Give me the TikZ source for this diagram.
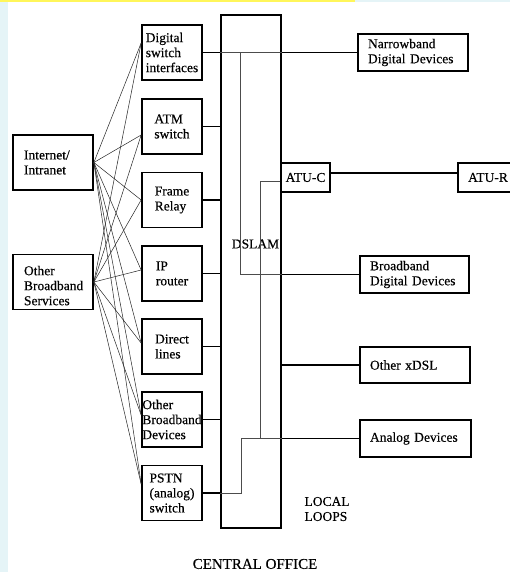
\documentclass[tikz,border=0pt]{standalone}
\usepackage{fontspec}
\setmainfont{Liberation Serif}[FakeBold=0.35]
\usetikzlibrary{calc}
\definecolor{paneblue}{RGB}{229,244,247}
\definecolor{strip}{RGB}{255,246,90}
\begin{document}
\begin{tikzpicture}[x=1pt,y=-1pt,
  txt/.style={font=\fontsize{13.5}{15}\selectfont},
  box/.style={txt, draw, line width=1.7pt, inner sep=0pt, align=left},
  srcbox/.style={box, minimum width=80pt, minimum height=55pt, inner xsep=11pt, text width=58pt},
  svcbox/.style={box, minimum width=60pt, minimum height=55pt},
  devbox/.style={box, minimum height=37pt, inner xsep=10pt},
  atubox/.style={box, minimum height=29pt, align=center},
  link/.style={line width=1.1pt},
  fan/.style={line width=0.5pt, draw=black!85},
  inner/.style={line width=0.5pt, draw=black!70}]
% page and side panels
\fill[white] (0,0) rectangle (510,572);
\fill[paneblue] (0,0) rectangle (8,572);
\fill[paneblue] (355,0) rectangle (510,2);
\fill[strip] (0,0) rectangle (355,2);
\useasboundingbox (0,0) rectangle (510,572);

% sources
\node[srcbox] (inet) at (53,162.5) {Internet/\\Intranet};
\node[srcbox, text depth=23pt] (obs) at (53,282) {Other\\Broadband\\Services};

% service switches
\node[svcbox] (dsi)  at (172,52.5)  {Digital\\switch\\interfaces};
\node[svcbox] (atm)  at (172,126.5) {ATM\\switch};
\node[svcbox] (fr)   at (172,200)   {Frame\\Relay};
\node[svcbox] (ip)   at (172,273.5) {IP\\router};
\node[svcbox] (dl)   at (172,346.5) {Direct\\lines};
\node[svcbox] (obd)  at (172,419.5) {Other\\Broadband\\Devices};
\node[svcbox] (pstn) at (172,493)   {PSTN\\(analog)\\switch};

% DSLAM frame
\node[draw, line width=1.7pt, minimum width=60pt, minimum height=513pt, inner sep=0pt] (dslam) at (251,271.5) {};
\node[txt] (dslamlbl) at (255.5,244) {DSLAM};

% customer side
\node[devbox, minimum width=110pt, text width=90pt] (nb) at (413,52.5) {Narrowband\\Digital Devices};
\node[atubox, minimum width=49pt] (atuc) at (305.5,177.5) {ATU-C};
\node[atubox, minimum width=60pt] (atur) at (488,177.5) {ATU-R};
\node[devbox, minimum width=109pt, text width=89pt] (bb) at (414.5,274.5) {Broadband\\Digital Devices};
\node[devbox, minimum width=110pt, text width=90pt, minimum height=36pt] (oxdsl) at (415,365) {Other xDSL};
\node[devbox, minimum width=111pt, text width=91pt] (analog) at (415.5,438.5) {Analog Devices};

\node[txt, align=left, anchor=west] (loops) at (301,509) {LOCAL\\LOOPS};
\node[font=\fontsize{15}{17}\selectfont] (office) at (255,564) {CENTRAL OFFICE};

% mesh from sources to switches
\foreach \s in {inet,obs}
  \foreach \t/\d in {dsi/9.5, atm/-8.5, fr/0, ip/3.5, dl/3.5, obd/4.5, pstn/9}
    \draw[fan] (\s.east) -- ([yshift=\d pt]\t.west);

% switches into the DSLAM
\foreach \t in {dsi,atm,fr,ip,dl,obd,pstn}
  \draw[link] (\t.east) -- (\t.east -| dslam.west);

% DSLAM out to the devices
\foreach \t in {nb,bb,oxdsl,analog}
  \draw[link] (\t.west -| dslam.east) -- (\t.west);
\draw[link] ([yshift=4.5pt]atuc.east) -- ([yshift=4.5pt]atuc.east -| atur.west);

% cross-connects inside the DSLAM
\coordinate (tapA) at (240,0);
\coordinate (tapB) at (260,0);
\coordinate (tapC) at (241,0);
\draw[inner] (dsi.east -| dslam.west) -- (dsi.east -| dslam.east);
\draw[inner] (dsi.east -| tapA) -- (bb.west -| tapA) -- (bb.west -| dslam.east);
\draw[inner] ([yshift=-3.5pt]atuc.west) -| (analog.west -| tapB);
\draw[inner] (analog.west -| dslam.east) -- (analog.west -| tapC) -- (pstn.east -| tapC) -- (pstn.east -| dslam.west);
\end{tikzpicture}
\end{document}
